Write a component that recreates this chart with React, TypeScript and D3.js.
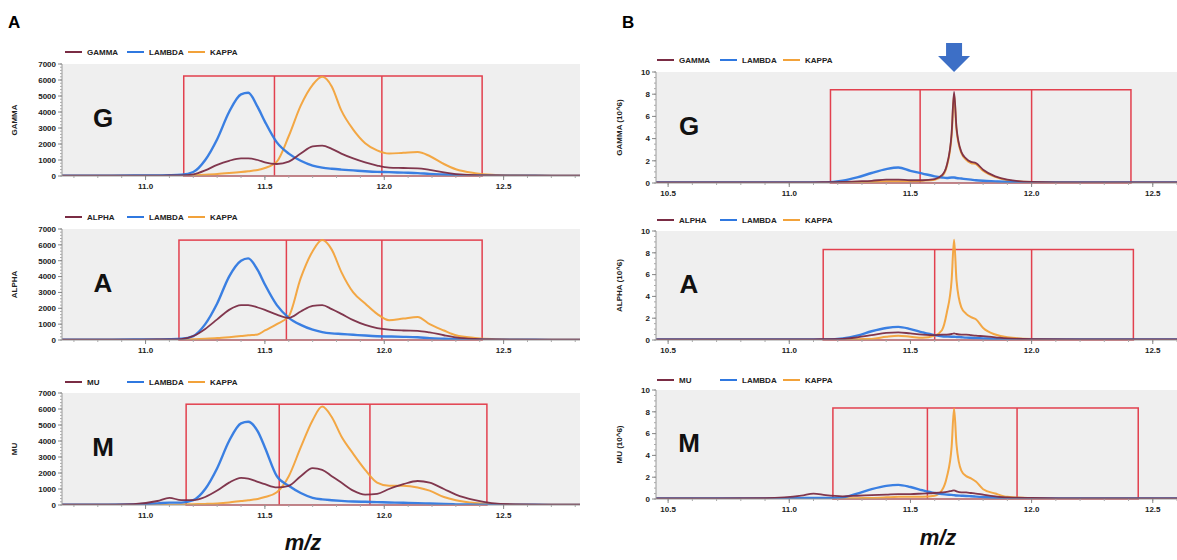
import React, { useEffect, useRef } from "react";
import * as d3 from "d3";

// m/z grid for the left (raw intensity) column
const mzLeft = [10.65, 10.8, 10.95, 11.05, 11.1, 11.15, 11.2, 11.25, 11.3, 11.35, 11.4, 11.43, 11.47, 11.5, 11.55, 11.6, 11.65, 11.7, 11.74, 11.78, 11.82, 11.87, 11.92, 11.97, 12.02, 12.08, 12.14, 12.19, 12.25, 12.3, 12.38, 12.45, 12.55, 12.7, 12.82];

const gammaLeft = [20, 20, 20, 25, 30, 30, 100, 350, 700, 950, 1100, 1100, 1000, 850, 750, 900, 1400, 1850, 1900, 1700, 1400, 1100, 850, 650, 520, 500, 480, 380, 220, 120, 50, 30, 20, 15, 15];
const gLambdaLeft = [20, 20, 30, 40, 50, 80, 250, 1000, 2300, 4000, 5100, 5200, 4300, 3400, 2100, 1400, 950, 650, 520, 450, 400, 350, 300, 260, 240, 210, 180, 130, 90, 60, 30, 20, 15, 10, 10];
const gKappaLeft = [10, 10, 10, 15, 20, 30, 50, 80, 120, 180, 250, 300, 380, 500, 900, 2500, 4400, 5700, 6200, 5600, 4100, 2900, 2050, 1600, 1400, 1450, 1500, 1250, 750, 420, 180, 80, 40, 20, 15];

const alphaLeft = [20, 20, 25, 30, 40, 60, 250, 700, 1300, 1900, 2200, 2200, 2050, 1900, 1600, 1400, 1800, 2150, 2200, 1950, 1650, 1250, 950, 750, 650, 600, 580, 480, 300, 170, 70, 30, 20, 15, 15];
const aLambdaLeft = [20, 20, 30, 40, 50, 80, 250, 1000, 2300, 4000, 5000, 5150, 4400, 3500, 2200, 1400, 950, 650, 500, 420, 380, 330, 280, 240, 220, 200, 170, 120, 80, 50, 30, 20, 15, 10, 10];
const aKappaLeft = [10, 10, 10, 15, 20, 30, 50, 80, 120, 180, 250, 300, 350, 600, 1000, 1500, 3900, 5600, 6300, 5700, 4300, 3000, 2300, 1650, 1250, 1350, 1450, 1000, 600, 300, 130, 60, 30, 20, 15];

const muLeft = [20, 20, 60, 250, 450, 300, 300, 500, 900, 1400, 1700, 1650, 1450, 1300, 1100, 1200, 1800, 2300, 2200, 1800, 1400, 900, 650, 700, 1000, 1300, 1500, 1400, 1000, 650, 300, 120, 40, 20, 20];
const mLambdaLeft = [20, 20, 40, 100, 150, 150, 300, 1000, 2300, 4000, 5100, 5200, 4600, 3600, 1800, 1200, 750, 450, 350, 300, 260, 220, 200, 180, 160, 140, 120, 90, 60, 40, 25, 20, 15, 10, 10];
const mKappaLeft = [10, 10, 10, 15, 20, 30, 50, 70, 100, 160, 250, 300, 380, 500, 800, 1800, 3600, 5300, 6150, 5500, 4300, 3200, 2200, 1400, 1200, 1200, 1100, 900, 500, 300, 120, 60, 30, 20, 15];

// m/z grid for the right (x10^6) column
const mzRight = [10.45, 10.7, 10.9, 11.05, 11.1, 11.15, 11.22, 11.28, 11.34, 11.4, 11.45, 11.5, 11.55, 11.6, 11.63, 11.65, 11.67, 11.68, 11.69, 11.71, 11.73, 11.75, 11.77, 11.8, 11.85, 11.9, 12.0, 12.2, 12.4, 12.6];

const gammaRight = [0.05, 0.05, 0.05, 0.05, 0.06, 0.08, 0.1, 0.15, 0.2, 0.3, 0.3, 0.25, 0.25, 0.35, 0.7, 1.6, 4.5, 8.2, 5.0, 2.8, 2.2, 1.9, 1.8, 1.2, 0.6, 0.3, 0.1, 0.05, 0.05, 0.05];
const gLambdaRight = [0.05, 0.05, 0.05, 0.05, 0.05, 0.05, 0.2, 0.5, 0.9, 1.25, 1.4, 1.1, 0.85, 0.6, 0.5, 0.45, 0.5, 0.5, 0.45, 0.4, 0.35, 0.3, 0.25, 0.2, 0.15, 0.1, 0.05, 0.05, 0.05, 0.05];
const gKappaRight = [0.02, 0.02, 0.02, 0.02, 0.02, 0.03, 0.05, 0.08, 0.1, 0.15, 0.15, 0.15, 0.2, 0.3, 0.6, 1.5, 4.3, 8.0, 4.8, 2.7, 2.1, 1.8, 1.7, 1.1, 0.55, 0.25, 0.08, 0.03, 0.02, 0.02];

const alphaRight = [0.05, 0.05, 0.05, 0.06, 0.06, 0.08, 0.1, 0.25, 0.45, 0.65, 0.7, 0.6, 0.5, 0.45, 0.5, 0.5, 0.55, 0.6, 0.55, 0.5, 0.5, 0.45, 0.4, 0.35, 0.25, 0.15, 0.08, 0.05, 0.05, 0.05];
const aLambdaRight = [0.05, 0.05, 0.05, 0.05, 0.05, 0.06, 0.15, 0.4, 0.8, 1.1, 1.2, 1.0, 0.7, 0.45, 0.35, 0.32, 0.3, 0.3, 0.28, 0.25, 0.22, 0.2, 0.18, 0.15, 0.1, 0.08, 0.05, 0.05, 0.05, 0.05];
const aKappaRight = [0.02, 0.02, 0.02, 0.02, 0.02, 0.03, 0.05, 0.08, 0.1, 0.3, 0.4, 0.3, 0.2, 0.4, 0.9, 2.5, 5.5, 9.2, 5.5, 3.0, 2.4, 2.1, 1.9, 1.1, 0.5, 0.25, 0.1, 0.03, 0.02, 0.02];

const muRight = [0.05, 0.05, 0.08, 0.3, 0.5, 0.35, 0.25, 0.3, 0.35, 0.4, 0.45, 0.45, 0.5, 0.55, 0.6, 0.65, 0.75, 0.8, 0.7, 0.6, 0.6, 0.55, 0.5, 0.4, 0.25, 0.15, 0.1, 0.05, 0.05, 0.05];
const mLambdaRight = [0.05, 0.05, 0.05, 0.08, 0.1, 0.1, 0.15, 0.5, 0.9, 1.2, 1.3, 1.1, 0.8, 0.55, 0.45, 0.4, 0.38, 0.35, 0.32, 0.3, 0.28, 0.25, 0.22, 0.18, 0.12, 0.08, 0.05, 0.05, 0.05, 0.05];
const mKappaRight = [0.02, 0.02, 0.02, 0.02, 0.02, 0.03, 0.05, 0.08, 0.1, 0.15, 0.2, 0.2, 0.2, 0.3, 0.8, 2.0, 4.8, 8.3, 5.0, 2.6, 2.1, 1.9, 1.6, 0.9, 0.5, 0.2, 0.08, 0.03, 0.02, 0.02];

// gate boxes (m/z edges) and their heights
const gatesLeftG = [11.16, 11.54, 11.99, 12.41];
const gatesLeftA = [11.14, 11.59, 11.99, 12.41];
const gatesLeftM = [11.17, 11.56, 11.94, 12.43];
const gatesRightG = [11.17, 11.54, 12.0, 12.41];
const gatesRightA = [11.14, 11.6, 12.0, 12.42];
const gatesRightM = [11.18, 11.57, 11.94, 12.44];
const gateTopsLeft = [6250, 6300, 6300];
const gateTopsRight = [8.4, 8.3, 8.35];

const xTicksLeft = [11.0, 11.5, 12.0, 12.5];
const xTicksRight = [10.5, 11.0, 11.5, 12.0, 12.5];
const yTicksLeft = [0, 1000, 2000, 3000, 4000, 5000, 6000, 7000];
const yTicksRight = [0, 2, 4, 6, 8, 10];

const chainNames = ["GAMMA", "ALPHA", "MU"];
const chainLetters = ["G", "A", "M"];

const COL_HEAVY = "#7a2c44";
const COL_LAMBDA = "#2f78e0";
const COL_KAPPA = "#f2a23a";
const COL_GATE = "#e2404e";
const FONT = "'Liberation Sans', Arial, sans-serif";

const rows = [
  { top: 64, bottom: 176, legendL: 52, topR: 72, bottomR: 183, legendR: 60 },
  { top: 229, bottom: 340, legendL: 217, topR: 231, bottomR: 340, legendR: 220 },
  { top: 393, bottom: 505, legendL: 382, topR: 390, bottomR: 499, legendR: 380 },
];

const leftSeries = [
  [gammaLeft, gLambdaLeft, gKappaLeft],
  [alphaLeft, aLambdaLeft, aKappaLeft],
  [muLeft, mLambdaLeft, mKappaLeft],
];
const rightSeries = [
  [gammaRight, gLambdaRight, gKappaRight],
  [alphaRight, aLambdaRight, aKappaRight],
  [muRight, mLambdaRight, mKappaRight],
];
const leftGates = [gatesLeftG, gatesLeftA, gatesLeftM];
const rightGates = [gatesRightG, gatesRightA, gatesRightM];

function drawPanel(svg, cfg) {
  const { x0, x1, top, bottom, xDomain, yMax, xTicks, yTicks, minorY, mz, series, gates, gateTop, legendY, legendXs, name, yTitle, titleX, letter, letterX, id } = cfg;
  const x = d3.scaleLinear().domain(xDomain).range([x0, x1]);
  const y = d3.scaleLinear().domain([0, yMax]).range([bottom, top]);
  const g = svg.append("g");

  g.append("rect").attr("x", x0).attr("y", top).attr("width", x1 - x0).attr("height", bottom - top).attr("fill", "#efefef");

  g.append("clipPath").attr("id", id).append("rect").attr("x", x0).attr("y", top - 30).attr("width", x1 - x0).attr("height", bottom - top + 30);

  // gate boxes
  g.append("rect")
    .attr("x", x(gates[0])).attr("y", y(gateTop))
    .attr("width", x(gates[3]) - x(gates[0])).attr("height", y(0) - y(gateTop))
    .attr("fill", "none").attr("stroke", COL_GATE).attr("stroke-width", 1.5);
  [gates[1], gates[2]].forEach((v) => {
    g.append("line").attr("x1", x(v)).attr("x2", x(v)).attr("y1", y(gateTop)).attr("y2", y(0))
      .attr("stroke", COL_GATE).attr("stroke-width", 1.5);
  });

  // spectra
  const line = d3.line().x((d) => x(d[0])).y((d) => y(d[1])).curve(d3.curveMonotoneX);
  const order = [
    { vals: series[2], color: COL_KAPPA, w: 2 },
    { vals: series[1], color: COL_LAMBDA, w: 2.4 },
    { vals: series[0], color: COL_HEAVY, w: 1.8 },
  ];
  order.forEach((s) => {
    g.append("path")
      .attr("d", line(mz.map((m, i) => [m, s.vals[i]])))
      .attr("fill", "none").attr("stroke", s.color).attr("stroke-width", s.w)
      .attr("stroke-linejoin", "round").attr("opacity", 0.95)
      .attr("clip-path", `url(#${id})`);
  });

  // axes
  g.append("line").attr("x1", x0).attr("x2", x0).attr("y1", top).attr("y2", bottom).attr("stroke", "#999");
  g.append("line").attr("x1", x0).attr("x2", x1).attr("y1", bottom).attr("y2", bottom).attr("stroke", "#999");
  d3.range(0, yMax + 1e-9, minorY).forEach((v) => {
    g.append("line").attr("x1", x0 - 2).attr("x2", x0).attr("y1", y(v)).attr("y2", y(v)).attr("stroke", "#aaa");
  });
  yTicks.forEach((v) => {
    g.append("line").attr("x1", x0 - 4).attr("x2", x0).attr("y1", y(v)).attr("y2", y(v)).attr("stroke", "#888");
    g.append("text").attr("x", x0 - 6).attr("y", y(v)).attr("dy", "0.35em").attr("text-anchor", "end")
      .attr("font-family", FONT).attr("font-size", 8).attr("font-weight", "bold").attr("fill", "#222")
      .text(String(v));
  });
  d3.range(Math.ceil(xDomain[0] * 10), Math.floor(xDomain[1] * 10) + 1).forEach((k) => {
    const v = k / 10;
    g.append("line").attr("x1", x(v)).attr("x2", x(v)).attr("y1", bottom).attr("y2", bottom + 2).attr("stroke", "#aaa");
  });
  xTicks.forEach((v) => {
    g.append("line").attr("x1", x(v)).attr("x2", x(v)).attr("y1", bottom).attr("y2", bottom + 4).attr("stroke", "#888");
    g.append("text").attr("x", x(v)).attr("y", bottom + 13).attr("text-anchor", "middle")
      .attr("font-family", FONT).attr("font-size", 8).attr("font-weight", "bold").attr("fill", "#222")
      .text(d3.format(".1f")(v));
  });

  // y title
  g.append("text")
    .attr("transform", `translate(${titleX},${(top + bottom) / 2}) rotate(-90)`)
    .attr("text-anchor", "middle").attr("font-family", FONT).attr("font-size", 8).attr("font-weight", "bold").attr("fill", "#222")
    .text(yTitle);

  // panel letter
  g.append("text").attr("x", letterX).attr("y", (top + bottom) / 2 - 2).attr("dy", "0.35em").attr("text-anchor", "middle")
    .attr("font-family", FONT).attr("font-size", 26).attr("font-weight", "bold").attr("fill", "#111")
    .text(letter);

  // legend
  const labels = [name, "LAMBDA", "KAPPA"];
  const colors = [COL_HEAVY, COL_LAMBDA, COL_KAPPA];
  labels.forEach((lab, i) => {
    const lx = legendXs[i];
    g.append("line").attr("x1", lx).attr("x2", lx + 17).attr("y1", legendY).attr("y2", legendY)
      .attr("stroke", colors[i]).attr("stroke-width", 2);
    g.append("text").attr("x", lx + 22).attr("y", legendY).attr("dy", "0.35em")
      .attr("font-family", FONT).attr("font-size", 8).attr("font-weight", "bold").attr("fill", "#222")
      .text(lab);
  });

  return { x, y };
}

export default function App() {
  const svgRef = useRef(null);

  useEffect(() => {
    const svg = d3.select(svgRef.current);
    svg.selectAll("*").remove();

    rows.forEach((r, i) => {
      drawPanel(svg, {
        id: `clipL${i}`,
        x0: 62, x1: 580, top: r.top, bottom: r.bottom,
        xDomain: [10.65, 12.82], yMax: 7000, xTicks: xTicksLeft, yTicks: yTicksLeft, minorY: 200,
        mz: mzLeft, series: leftSeries[i], gates: leftGates[i], gateTop: gateTopsLeft[i],
        legendY: r.legendL, legendXs: [65, 127, 188], name: chainNames[i], yTitle: chainNames[i],
        titleX: 17, letter: chainLetters[i], letterX: 103,
      });
      const right = drawPanel(svg, {
        id: `clipR${i}`,
        x0: 656, x1: 1177, top: r.topR, bottom: r.bottomR,
        xDomain: [10.45, 12.6], yMax: 10, xTicks: xTicksRight, yTicks: yTicksRight, minorY: 0.5,
        mz: mzRight, series: rightSeries[i], gates: rightGates[i], gateTop: gateTopsRight[i],
        legendY: r.legendR, legendXs: [657, 720, 783], name: chainNames[i], yTitle: `${chainNames[i]} (10^6)`,
        titleX: 622, letter: chainLetters[i], letterX: 689,
      });
      if (i === 0) {
        // arrow over the sharp peak
        const peakIdx = d3.maxIndex(gammaRight);
        const cx = right.x(mzRight[peakIdx]);
        const pts = [
          [cx - 8, 43], [cx + 8, 43], [cx + 8, 56], [cx + 16, 56], [cx, 72], [cx - 16, 56], [cx - 8, 56],
        ];
        svg.append("polygon").attr("points", pts.map((p) => p.join(",")).join(" ")).attr("fill", "#3d6fc6");
      }
    });

    // column letters and axis titles
    svg.append("text").attr("x", 8).attr("y", 28).attr("font-family", FONT).attr("font-size", 17).attr("font-weight", "bold").text("A");
    svg.append("text").attr("x", 622).attr("y", 28).attr("font-family", FONT).attr("font-size", 17).attr("font-weight", "bold").text("B");
    [[303, 550], [938, 545]].forEach(([mx, my]) => {
      svg.append("text").attr("x", mx).attr("y", my).attr("text-anchor", "middle")
        .attr("font-family", FONT).attr("font-size", 22).attr("font-weight", "bold").attr("font-style", "italic")
        .attr("fill", "#111").text("m/z");
    });
  }, []);

  return (
    <svg
      ref={svgRef}
      width={1177}
      height={560}
      style={{ position: "absolute", left: 0, top: 0, background: "#fff" }}
    />
  );
}
